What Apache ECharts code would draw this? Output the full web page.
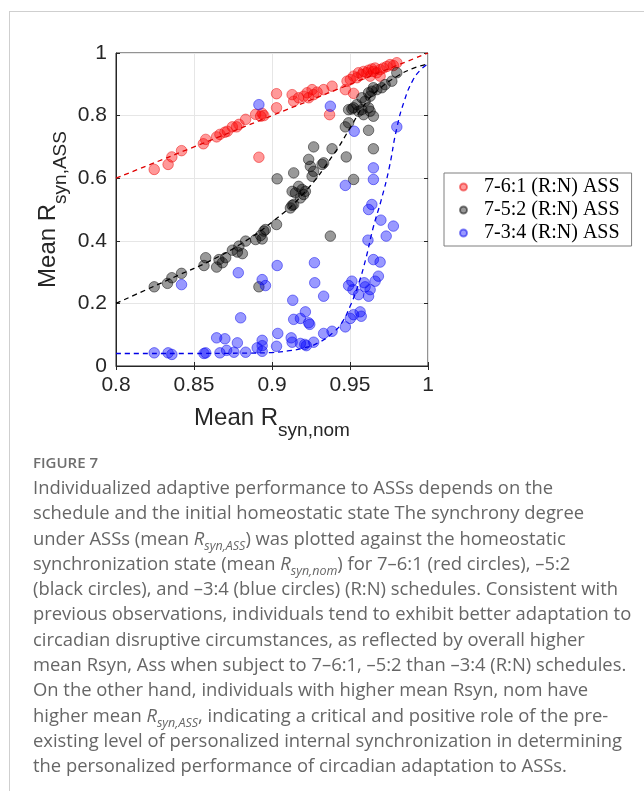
<!DOCTYPE html>
<html>
<head>
<meta charset="utf-8">
<script src="https://cdn.jsdelivr.net/npm/echarts@6/dist/echarts.min.js"></script>
<style>
body { margin: 0; background: #fff; }
#page { position: relative; width: 644px; height: 791px; overflow: hidden; }
#frame { position: absolute; left: 9px; top: 11px; width: 700px; height: 800px; border-left: 1px solid #cfcfcf; border-top: 1px solid #cfcfcf; }
#chart { position: absolute; left: 0; top: 0; width: 644px; height: 460px; }
#caption { position: absolute; left: 33px; top: 450px; font-family: "Open Sans", Lato, sans-serif; color: #666; white-space: nowrap; }
#caption .fig { font-size: 15px; font-weight: 600; color: #6e6e6e; line-height: 24px; }
#caption .body { font-size: 18.4px; line-height: 25.3px; }
#caption sub { font-size: 12.5px; line-height: 0; }
</style>
</head>
<body>
<div id="page">
  <div id="frame"></div>
  <div id="chart"></div>
  <div id="caption">
    <div class="fig">FIGURE 7</div>
    <div class="body">
      Individualized adaptive performance to ASSs depends on the<br>
      schedule and the initial homeostatic state The synchrony degree<br>
      under ASSs (mean <i>R<sub>syn,ASS</sub></i>) was plotted against the homeostatic<br>
      synchronization state (mean <i>R<sub>syn,nom</sub></i>) for 7–6:1 (red circles), –5:2<br>
      (black circles), and –3:4 (blue circles) (R:N) schedules. Consistent with<br>
      previous observations, individuals tend to exhibit better adaptation to<br>
      circadian disruptive circumstances, as reflected by overall higher<br>
      mean Rsyn, Ass when subject to 7–6:1, –5:2 than –3:4 (R:N) schedules.<br>
      On the other hand, individuals with higher mean Rsyn, nom have<br>
      higher mean <i>R<sub>syn,ASS</sub></i>, indicating a critical and positive role of the pre-<br>
      existing level of personalized internal synchronization in determining<br>
      the personalized performance of circadian adaptation to ASSs.
    </div>
  </div>
</div>
<script>
// tick labels
const xTicks = ['0.8', '0.85', '0.9', '0.95', '1']
const yTicks = ['0', '0.2', '0.4', '0.6', '0.8', '1']

const seriesNames = ['7-6:1 (R:N) ASS', '7-5:2 (R:N) ASS', '7-3:4 (R:N) ASS']

// [mean Rsyn,nom, mean Rsyn,ASS]
const red61 = [
  [0.8245, 0.628], [0.8334, 0.644], [0.8358, 0.668], [0.842, 0.688], [0.856, 0.71],
  [0.8575, 0.724], [0.8645, 0.732], [0.8666, 0.74], [0.8698, 0.747], [0.8714, 0.75],
  [0.8746, 0.764], [0.8773, 0.764], [0.8788, 0.772], [0.8831, 0.788], [0.8895, 0.804],
  [0.8937, 0.807], [0.8948, 0.8], [0.8927, 0.798], [0.8916, 0.667], [0.9029, 0.87],
  [0.9029, 0.825], [0.9129, 0.867], [0.9139, 0.846], [0.9171, 0.857], [0.9203, 0.862],
  [0.9225, 0.873], [0.9235, 0.857], [0.9257, 0.883], [0.9267, 0.867], [0.9289, 0.875],
  [0.9331, 0.883], [0.9385, 0.894], [0.9369, 0.803], [0.947, 0.883], [0.9481, 0.91],
  [0.9523, 0.871], [0.9502, 0.915], [0.9523, 0.926], [0.9544, 0.921], [0.9555, 0.937],
  [0.9576, 0.931], [0.9587, 0.941], [0.9608, 0.937], [0.9619, 0.945], [0.9629, 0.926],
  [0.964, 0.949], [0.965, 0.941], [0.9661, 0.952], [0.9672, 0.937], [0.9693, 0.947],
  [0.9714, 0.952], [0.9736, 0.957], [0.9757, 0.963], [0.9778, 0.96], [0.98, 0.969],
  [0.9693, 0.926]
]

const black52 = [
  [0.8245, 0.253], [0.833, 0.264], [0.8358, 0.282], [0.842, 0.296], [0.8564, 0.321],
  [0.8575, 0.346], [0.8645, 0.316], [0.866, 0.34], [0.8682, 0.33], [0.8703, 0.346],
  [0.8746, 0.37], [0.8778, 0.364], [0.8788, 0.383], [0.881, 0.359], [0.8831, 0.399],
  [0.8895, 0.404], [0.8937, 0.406], [0.8948, 0.431], [0.8958, 0.436], [0.8927, 0.417],
  [0.8916, 0.253], [0.9029, 0.452], [0.9129, 0.513], [0.9033, 0.598], [0.9139, 0.617],
  [0.9171, 0.574], [0.9193, 0.564], [0.9214, 0.558], [0.9203, 0.548], [0.915, 0.553],
  [0.9129, 0.558], [0.9182, 0.537], [0.9139, 0.516], [0.9118, 0.505], [0.9235, 0.66],
  [0.9246, 0.638], [0.9267, 0.622], [0.9257, 0.606], [0.9321, 0.644], [0.9331, 0.649],
  [0.9267, 0.7], [0.9385, 0.694], [0.9476, 0.668], [0.965, 0.694], [0.9523, 0.596],
  [0.9374, 0.415], [0.9491, 0.819], [0.9512, 0.821], [0.9544, 0.835], [0.9555, 0.814],
  [0.9576, 0.819], [0.9587, 0.803], [0.9619, 0.825], [0.9629, 0.814], [0.965, 0.798],
  [0.9523, 0.825], [0.9491, 0.777], [0.947, 0.764], [0.9619, 0.753], [0.9725, 0.899],
  [0.9704, 0.889], [0.9672, 0.883], [0.965, 0.889], [0.964, 0.878], [0.9619, 0.873],
  [0.9629, 0.862], [0.9597, 0.846], [0.9576, 0.857], [0.9768, 0.91], [0.98, 0.937]
]

const blue34 = [
  [0.8916, 0.835], [0.9374, 0.83], [0.98, 0.764], [0.9527, 0.75], [0.965, 0.633],
  [0.965, 0.596], [0.947, 0.577], [0.964, 0.516], [0.9619, 0.5], [0.9698, 0.466],
  [0.9778, 0.447], [0.9732, 0.415], [0.9615, 0.402], [0.965, 0.34], [0.9693, 0.332],
  [0.9682, 0.287], [0.9661, 0.271], [0.9629, 0.244], [0.9619, 0.223], [0.9597, 0.253],
  [0.9591, 0.266], [0.9555, 0.228], [0.9519, 0.244], [0.9512, 0.271], [0.9491, 0.257],
  [0.9565, 0.173], [0.9572, 0.159], [0.9523, 0.164], [0.9502, 0.152], [0.947, 0.125],
  [0.9385, 0.111], [0.9331, 0.104], [0.9267, 0.076], [0.922, 0.065], [0.921, 0.069],
  [0.9182, 0.072], [0.9129, 0.076], [0.9123, 0.09], [0.9037, 0.104], [0.9029, 0.063],
  [0.9242, 0.133], [0.9235, 0.138], [0.9139, 0.149], [0.9182, 0.152], [0.9214, 0.173],
  [0.9133, 0.21], [0.9331, 0.223], [0.9274, 0.266], [0.9272, 0.33], [0.9033, 0.321],
  [0.842, 0.26], [0.8784, 0.298], [0.8937, 0.276], [0.8958, 0.257], [0.8799, 0.154],
  [0.8645, 0.09], [0.8698, 0.087], [0.8778, 0.074], [0.8937, 0.082], [0.8937, 0.065],
  [0.8905, 0.058], [0.8937, 0.047], [0.8245, 0.042], [0.8334, 0.042], [0.8358, 0.037],
  [0.8564, 0.04], [0.8575, 0.042], [0.8666, 0.042], [0.8709, 0.05], [0.8756, 0.044],
  [0.8831, 0.044]
]

// dashed fit curves
const redFit = [[0.8, 0.6], [0.85, 0.7], [0.9, 0.8], [0.95, 0.9], [1, 1]]
const blackFit = [
  [0.8, 0.2], [0.82, 0.245], [0.84, 0.29], [0.86, 0.335], [0.88, 0.39], [0.9, 0.46],
  [0.92, 0.55], [0.94, 0.68], [0.95, 0.76], [0.96, 0.84], [0.97, 0.89], [0.98, 0.925],
  [0.99, 0.95], [1, 0.965]
]
const blueFit = [
  [0.8, 0.04], [0.85, 0.04], [0.88, 0.041], [0.9, 0.043], [0.91, 0.048], [0.92, 0.057],
  [0.93, 0.075], [0.94, 0.11], [0.945, 0.14], [0.95, 0.19], [0.955, 0.255], [0.96, 0.34],
  [0.965, 0.445], [0.97, 0.53], [0.975, 0.63], [0.98, 0.76], [0.985, 0.85], [0.99, 0.91],
  [0.995, 0.945], [1, 0.965]
]

const axisColor = '#262626'
const font = 'Liberation Sans, Arial, sans-serif'

function scatter (name, data, fill, border) {
  return {
    name: name,
    type: 'scatter',
    data: data,
    symbolSize: 10.5,
    itemStyle: { color: fill, borderColor: border, borderWidth: 1 }
  }
}

function fit (data, color) {
  return {
    type: 'line',
    data: data,
    smooth: true,
    showSymbol: false,
    silent: true,
    z: 3,
    lineStyle: { color: color, width: 1.3, type: [5, 4] }
  }
}

const chart = echarts.init(document.getElementById('chart'))
const options = {
  animation: false,
  grid: {
    left: 116,
    top: 53,
    width: 312,
    height: 313,
    show: true,
    borderColor: axisColor,
    borderWidth: 1
  },
  legend: {
    data: seriesNames,
    orient: 'vertical',
    left: 444,
    top: 173,
    icon: 'circle',
    itemWidth: 7,
    itemHeight: 7,
    itemGap: 3,
    padding: [4, 12, 3, 15],
    borderColor: '#7f7f7f',
    borderWidth: 1,
    backgroundColor: '#fff',
    textStyle: {
      fontFamily: 'Liberation Serif, Times New Roman, serif',
      fontSize: 20,
      color: '#000',
      lineHeight: 20,
      padding: [0, 0, 0, 12]
    }
  },
  xAxis: [{
    type: 'value',
    min: 0.8,
    max: 1,
    interval: 0.05,
    axisLine: { lineStyle: { color: axisColor } },
    axisTick: { inside: true, length: 4, lineStyle: { color: axisColor } },
    axisLabel: {
      margin: 9,
      fontSize: 21,
      fontFamily: font,
      color: axisColor,
      formatter: (v, i) => xTicks[i]
    },
    splitLine: { lineStyle: { color: '#e6e6e6' } },
    name: '{a|Mean R}{b|syn,nom}',
    nameLocation: 'middle',
    nameGap: 30,
    nameTextStyle: {
      rich: {
        a: { fontSize: 24, fontFamily: font, color: axisColor },
        b: { fontSize: 19, fontFamily: font, color: axisColor, padding: [25, 0, 0, 0] }
      }
    }
  }, {
    type: 'value',
    position: 'top',
    min: 0.8,
    max: 1,
    interval: 0.05,
    axisLine: { show: false },
    axisTick: { inside: true, length: 4, lineStyle: { color: axisColor } },
    axisLabel: { show: false },
    splitLine: { show: false }
  }],
  yAxis: [{
    type: 'value',
    min: 0,
    max: 1,
    interval: 0.2,
    axisLine: { show: true, lineStyle: { color: axisColor } },
    axisTick: { show: true, inside: true, length: 4, lineStyle: { color: axisColor } },
    axisLabel: {
      margin: 9,
      fontSize: 21,
      fontFamily: font,
      color: axisColor,
      formatter: (v, i) => yTicks[i]
    },
    splitLine: { lineStyle: { color: '#e6e6e6' } },
    name: '{a|Mean R}{b|syn,ASS}',
    nameLocation: 'middle',
    nameGap: 46,
    nameTextStyle: {
      rich: {
        a: { fontSize: 24, fontFamily: font, color: axisColor },
        b: { fontSize: 19, fontFamily: font, color: axisColor, padding: [25, 0, 0, 0] }
      }
    }
  }, {
    type: 'value',
    position: 'right',
    min: 0,
    max: 1,
    interval: 0.2,
    axisLine: { show: false },
    axisTick: { show: true, inside: true, length: 4, lineStyle: { color: axisColor } },
    axisLabel: { show: false },
    splitLine: { show: false }
  }],
  series: [
    scatter(seriesNames[0], red61, 'rgba(255,0,0,0.5)', 'rgba(235,0,0,0.6)'),
    scatter(seriesNames[1], black52, 'rgba(0,0,0,0.5)', 'rgba(0,0,0,0.6)'),
    scatter(seriesNames[2], blue34, 'rgba(0,0,255,0.5)', 'rgba(0,0,235,0.6)'),
    fit(redFit, '#e00000'),
    fit(blackFit, '#000000'),
    fit(blueFit, '#0000e6')
  ]
}
chart.setOption(options)
</script>
</body>
</html>
